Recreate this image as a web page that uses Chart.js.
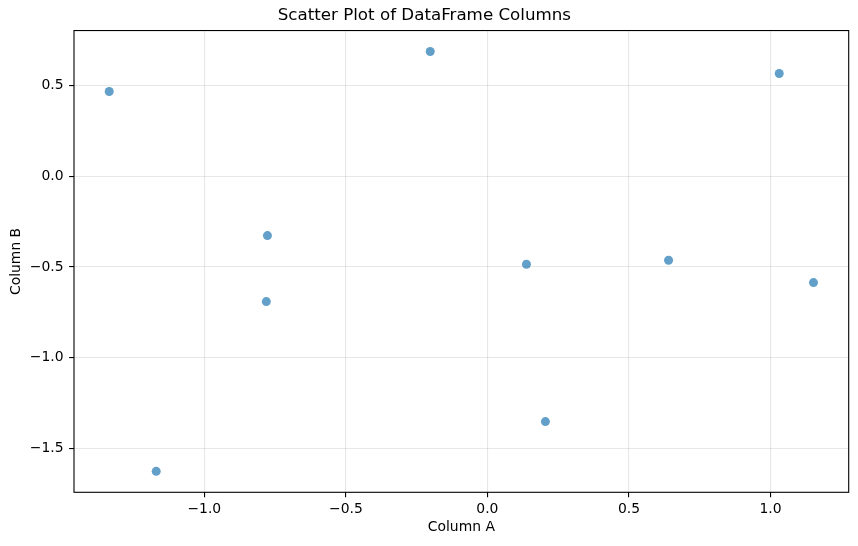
<!DOCTYPE html>
<html>
<head>
<meta charset="utf-8">
<script src="https://cdn.jsdelivr.net/npm/chart.js@4.4.1/dist/chart.umd.min.js"></script>
<style>
  html, body { margin: 0; padding: 0; background: #fff; }
  #wrap { width: 858px; height: 546px; }
</style>
</head>
<body>
<div id="wrap"><canvas id="c" width="858" height="546"></canvas></div>
<script>
// Data
const columnA = [-1.336, -0.202, 1.031, -0.777, -0.781, 0.138, 0.640, 1.152, 0.205, -1.170];
const columnB = [0.467, 0.687, 0.566, -0.327, -0.691, -0.485, -0.463, -0.586, -1.352, -1.626];
const xTicks = [-1.0, -0.5, 0.0, 0.5, 1.0];
const yTicks = [-1.5, -1.0, -0.5, 0.0, 0.5];
const titleText = 'Scatter Plot of DataFrame Columns';
const xLabel = 'Column A';
const yLabel = 'Column B';

// matplotlib-style 5% auto margins
function lims(arr) {
  const mn = Math.min(...arr), mx = Math.max(...arr);
  const m = (mx - mn) * 0.05;
  return [mn - m, mx + m];
}
const [xMin, xMax] = lims(columnA);
const [yMin, yMax] = lims(columnB);

const points = columnA.map((x, i) => ({ x: x, y: columnB[i] }));
const FONT = 'DejaVu Sans';
const fmt = v => Number(v).toFixed(1).replace('-', '\u2212');

const spines = {
  id: 'spines',
  afterDatasetsDraw(chart) {
    const a = chart.chartArea, ctx = chart.ctx;
    ctx.save();
    ctx.strokeStyle = '#000';
    ctx.lineWidth = 1.1;
    ctx.strokeRect(a.left, a.top, a.right - a.left, a.bottom - a.top);
    ctx.restore();
  }
};

new Chart(document.getElementById('c'), {
  type: 'scatter',
  data: {
    datasets: [{
      data: points,
      backgroundColor: 'rgba(31,119,180,0.7)',
      borderColor: 'rgba(31,119,180,0.7)',
      borderWidth: 0,
      pointRadius: 4.5,
      pointHoverRadius: 4.5
    }]
  },
  options: {
    responsive: false,
    animation: false,
    devicePixelRatio: 1,
    layout: { padding: { left: 0, right: 9.3, top: 0, bottom: 0 } },
    plugins: {
      legend: { display: false },
      tooltip: { enabled: false },
      title: {
        display: true,
        text: titleText,
        color: '#000',
        font: { family: FONT, size: 16.7, weight: 'normal' },
        padding: { top: 6, bottom: 4.5 }
      }
    },
    scales: {
      x: {
        type: 'linear',
        min: xMin,
        max: xMax,
        afterBuildTicks: s => { s.ticks = xTicks.map(v => ({ value: v })); },
        afterFit: s => { s.height = 53.7; },
        border: { display: false },
        grid: {
          color: 'rgba(176,176,176,0.3)',
          lineWidth: 1.1,
          drawTicks: true,
          tickLength: 4.9,
          tickColor: '#000',
          tickWidth: 1.1
        },
        ticks: {
          color: '#000',
          font: { family: FONT, size: 13.9 },
          padding: 4,
          maxRotation: 0,
          callback: v => fmt(v)
        },
        title: {
          display: true,
          text: xLabel,
          color: '#000',
          font: { family: FONT, size: 13.9 },
          padding: { top: 0, bottom: 10.2 }
        }
      },
      y: {
        type: 'linear',
        min: yMin,
        max: yMax,
        afterBuildTicks: s => { s.ticks = yTicks.map(v => ({ value: v })); },
        afterFit: s => { s.width = 74; },
        border: { display: false },
        grid: {
          color: 'rgba(176,176,176,0.3)',
          lineWidth: 1.1,
          drawTicks: true,
          tickLength: 4.9,
          tickColor: '#000',
          tickWidth: 1.1
        },
        ticks: {
          color: '#000',
          font: { family: FONT, size: 13.9 },
          padding: 5.5,
          callback: v => fmt(v)
        },
        title: {
          display: true,
          text: yLabel,
          color: '#000',
          font: { family: FONT, size: 13.9 },
          padding: { top: 8.4, bottom: 0 }
        }
      }
    }
  },
  plugins: [spines]
});
</script>
</body>
</html>
